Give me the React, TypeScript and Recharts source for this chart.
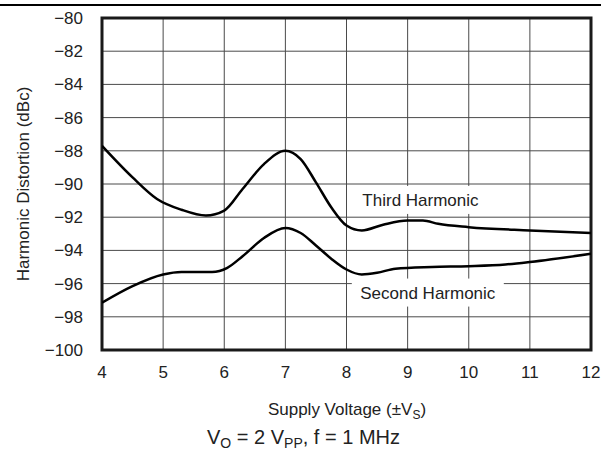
import { LineChart, Line, XAxis, YAxis, CartesianGrid, ReferenceArea, ReferenceDot } from 'recharts';

// supply voltage (±V) and distortion (dBc)
const thirdVolts = [4, 4.5, 4.9, 5.3, 5.7, 6.0, 6.3, 6.65, 7.0, 7.25, 7.5, 7.75, 8.0, 8.25, 8.6, 9.0, 9.25, 9.5, 10, 11, 12];
const thirdDbc = [-87.7, -89.6, -90.9, -91.55, -91.9, -91.6, -90.3, -88.8, -88.0, -88.5, -89.9, -91.4, -92.5, -92.8, -92.45, -92.2, -92.2, -92.4, -92.6, -92.8, -92.95];

const secondVolts = [4, 4.5, 5.0, 5.3, 5.8, 6.05, 6.3, 6.65, 7.0, 7.25, 7.5, 7.75, 8.0, 8.25, 8.5, 8.8, 9.4, 10, 10.6, 11, 12];
const secondDbc = [-97.15, -96.15, -95.45, -95.3, -95.3, -95.05, -94.35, -93.25, -92.65, -92.95, -93.7, -94.5, -95.15, -95.45, -95.35, -95.1, -95.0, -94.95, -94.85, -94.7, -94.2];

const xTicks = [4, 5, 6, 7, 8, 9, 10, 11, 12];
const yTicks = [-100, -98, -96, -94, -92, -90, -88, -86, -84, -82, -80];

const thirdData = thirdVolts.map((v, i) => ({ v, db: thirdDbc[i] }));
const secondData = secondVolts.map((v, i) => ({ v, db: secondDbc[i] }));

const FONT = '"Liberation Sans", Arial, sans-serif';
const minus = (n: number) => (n < 0 ? '\u2212' + Math.abs(n) : String(n));

function SeriesLabel({ cx, cy, text, w }: { cx?: number; cy?: number; text: string; w: number }) {
  if (cx == null || cy == null) return null;
  return (
    <g>
      <rect x={cx - w / 2} y={cy - 14} width={w} height={28} fill="#fff" />
      <text x={cx} y={cy} dy="0.36em" textAnchor="middle" fontSize={17} fontFamily={FONT} fill="#222">
        {text}
      </text>
    </g>
  );
}

export default function App() {
  return (
    <div style={{ position: 'absolute', left: 0, top: 0, width: 601, height: 451, background: '#fff', fontFamily: FONT }}>
      <div style={{ position: 'absolute', left: 0, top: 4, width: 601, height: 2, background: '#000' }} />
      <LineChart width={601} height={451} margin={{ top: 18, right: 10, bottom: 71, left: 0 }}>
        <CartesianGrid stroke="#4a4a4a" strokeWidth={1} />
        <XAxis
          type="number"
          dataKey="v"
          domain={[4, 12]}
          ticks={xTicks}
          allowDataOverflow
          height={30}
          axisLine={false}
          tickLine={false}
          tickSize={0}
          tickMargin={16}
          tick={{ fill: '#222', fontSize: 17, fontFamily: FONT }}
          label={{
            content: () => (
              <g fontFamily={FONT} fill="#222">
                <text x={347} y={415} textAnchor="middle" fontSize={17}>
                  Supply Voltage (±V<tspan fontSize={12} dy={4}>S</tspan>
                  <tspan dy={-4}>)</tspan>
                </text>
                <text x={207} y={444} textAnchor="start" fontSize={20}>
                  V<tspan fontSize={14} dy={4}>O</tspan>
                  <tspan dy={-4}> = 2 V</tspan>
                  <tspan fontSize={14} dy={4}>PP</tspan>
                  <tspan dy={-4}>, f = 1 MHz</tspan>
                </text>
              </g>
            ),
          }}
        />
        <YAxis
          type="number"
          dataKey="db"
          domain={[-100, -80]}
          ticks={yTicks}
          allowDataOverflow
          width={102}
          axisLine={false}
          tickLine={false}
          tickSize={0}
          tickMargin={19}
          tickFormatter={minus}
          tick={{ fill: '#222', fontSize: 17, fontFamily: FONT }}
          label={{
            content: () => (
              <text
                x={29}
                y={184}
                transform="rotate(-90 29 184)"
                textAnchor="middle"
                fontSize={17}
                fontFamily={FONT}
                fill="#222"
              >
                Harmonic Distortion (dBc)
              </text>
            ),
          }}
        />
        <ReferenceDot
          x={9.21}
          y={-90.96}
          r={1}
          shape={(p: any) => <SeriesLabel cx={p.cx} cy={p.cy} text="Third Harmonic" w={140} />}
        />
        <ReferenceDot
          x={9.33}
          y={-96.54}
          r={1}
          shape={(p: any) => <SeriesLabel cx={p.cx} cy={p.cy} text="Second Harmonic" w={152} />}
        />
        <Line
          data={thirdData}
          dataKey="db"
          type="monotone"
          stroke="#000"
          strokeWidth={2.5}
          dot={false}
          activeDot={false}
          isAnimationActive={false}
        />
        <Line
          data={secondData}
          dataKey="db"
          type="monotone"
          stroke="#000"
          strokeWidth={2.5}
          dot={false}
          activeDot={false}
          isAnimationActive={false}
        />
        <ReferenceArea x1={4} x2={12} y1={-100} y2={-80} fill="none" stroke="#1a1a1a" strokeWidth={3} />
      </LineChart>
    </div>
  );
}
